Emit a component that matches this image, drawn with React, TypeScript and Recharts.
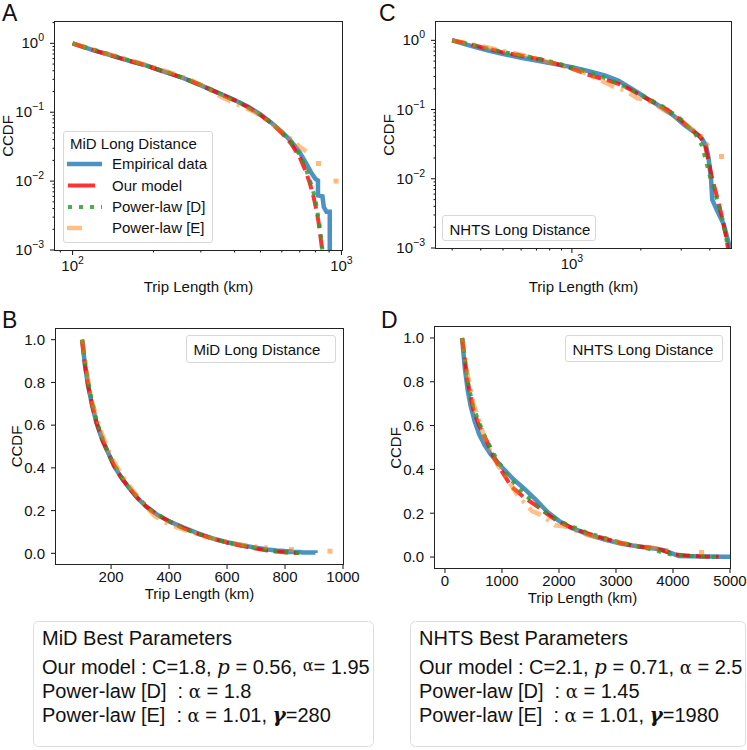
import React from 'react';
import { ComposedChart, Line, Scatter, XAxis, YAxis } from 'recharts';

const SANS = '"Liberation Sans", Arial, Helvetica, sans-serif';
const SERIF = '"DejaVu Serif", "Liberation Serif", serif';
const INK = '#111111';

// MiD long-distance trips: trip length (km) and CCDF per series
const midEmpiricalKm = [100, 110, 120, 135, 150, 170, 190, 210, 235, 260, 290, 320, 360, 400, 450, 500, 550, 600, 650, 700, 740, 770, 800, 818, 818, 850, 860, 880, 905, 905];
const midEmpiricalCcdf = [1.0, 0.88, 0.79, 0.69, 0.61, 0.53, 0.47, 0.41, 0.355, 0.31, 0.26, 0.22, 0.18, 0.15, 0.12, 0.093, 0.07, 0.052, 0.038, 0.026, 0.018, 0.0135, 0.0108, 0.0102, 0.0062, 0.006, 0.0042, 0.0036, 0.0036, 0.001];
const midModelKm = [100, 110, 120, 135, 150, 170, 190, 210, 235, 260, 290, 320, 360, 400, 450, 500, 550, 600, 650, 700, 733, 760, 787, 805, 820, 835, 848];
const midModelCcdf = [1.0, 0.88, 0.79, 0.69, 0.61, 0.53, 0.47, 0.41, 0.355, 0.31, 0.26, 0.22, 0.18, 0.15, 0.118, 0.091, 0.069, 0.05, 0.035, 0.022, 0.0145, 0.0098, 0.006, 0.004, 0.0027, 0.0016, 0.001];
const midPowerDKm = [100, 115, 130, 150, 175, 200, 230, 260, 300, 340, 380, 430, 480, 530, 580, 630, 680, 720, 745, 770, 800, 832, 850];
const midPowerDCcdf = [1.0, 0.85, 0.74, 0.62, 0.52, 0.44, 0.37, 0.31, 0.25, 0.2, 0.165, 0.13, 0.1, 0.078, 0.058, 0.042, 0.029, 0.019, 0.0135, 0.0092, 0.0055, 0.0021, 0.001];
const midPowerEKm = [100, 130, 160, 200, 240, 280, 315, 350, 385, 430, 480, 530, 580, 630, 665, 710, 740];
const midPowerECcdf = [1.0, 0.73, 0.59, 0.45, 0.36, 0.285, 0.225, 0.175, 0.145, 0.12, 0.098, 0.076, 0.058, 0.045, 0.037, 0.03, 0.027];
const midPowerETailKm = [822, 955];
const midPowerETailCcdf = [0.018, 0.01];

// NHTS long-distance trips
const nhtsEmpiricalKm = [300, 350, 400, 450, 520, 600, 700, 800, 1000, 1200, 1400, 1600, 1800, 2000, 2200, 2500, 2800, 3100, 3400, 3700, 3850, 3950, 4050, 4100, 4300, 4600, 4900, 5000];
const nhtsEmpiricalCcdf = [1.0, 0.86, 0.76, 0.69, 0.62, 0.56, 0.51, 0.47, 0.41, 0.355, 0.31, 0.26, 0.205, 0.165, 0.135, 0.105, 0.08, 0.06, 0.048, 0.038, 0.03, 0.02, 0.01, 0.005, 0.0035, 0.0022, 0.001, 0.0008];
const nhtsModelKm = [300, 350, 400, 500, 600, 733, 850, 1000, 1170, 1400, 1600, 1800, 2000, 2300, 2600, 3000, 3300, 3600, 3800, 3950, 4100, 4300, 4500, 4700, 4800];
const nhtsModelCcdf = [1.0, 0.9, 0.8, 0.67, 0.6, 0.53, 0.46, 0.39, 0.32, 0.27, 0.235, 0.195, 0.16, 0.125, 0.1, 0.07, 0.052, 0.042, 0.032, 0.018, 0.01, 0.0055, 0.003, 0.0015, 0.001];
const nhtsPowerDKm = [300, 400, 500, 700, 900, 1100, 1400, 1700, 2000, 2500, 3000, 3450, 3700, 3820, 4000, 4200, 4400, 4600, 4800];
const nhtsPowerDCcdf = [1.0, 0.8, 0.68, 0.55, 0.45, 0.37, 0.285, 0.215, 0.165, 0.11, 0.072, 0.045, 0.03, 0.02, 0.011, 0.0065, 0.004, 0.0022, 0.001];
const nhtsPowerEKm = [300, 350, 420, 500, 600, 700, 800, 900, 1000, 1120, 1250, 1400, 1530, 1700, 1930, 2100, 2300, 2500, 2800, 3100, 3400, 3650, 3800, 3950];
const nhtsPowerECcdf = [1.0, 0.9, 0.8, 0.7, 0.62, 0.54, 0.48, 0.43, 0.39, 0.345, 0.29, 0.245, 0.21, 0.19, 0.145, 0.14, 0.12, 0.1, 0.08, 0.063, 0.05, 0.042, 0.034, 0.03];
const nhtsPowerETailKm = [4500];
const nhtsPowerETailCcdf = [0.021];

const legendLabels = ['Empirical data', 'Our model', 'Power-law [D]', 'Power-law [E]'];

type Pt = { x: number; y: number };
const zip = (xs: number[], ys: number[]): Pt[] => xs.map((x, i) => ({ x, y: ys[i] }));

interface SeriesSet {
  empirical: Pt[];
  model: Pt[];
  powerD: Pt[];
  powerE: Pt[];
  tail: Pt[];
}

const mid: SeriesSet = {
  empirical: zip(midEmpiricalKm, midEmpiricalCcdf),
  model: zip(midModelKm, midModelCcdf),
  powerD: zip(midPowerDKm, midPowerDCcdf),
  powerE: zip(midPowerEKm, midPowerECcdf),
  tail: zip(midPowerETailKm, midPowerETailCcdf),
};

const nhts: SeriesSet = {
  empirical: zip(nhtsEmpiricalKm, nhtsEmpiricalCcdf),
  model: zip(nhtsModelKm, nhtsModelCcdf),
  powerD: zip(nhtsPowerDKm, nhtsPowerDCcdf),
  powerE: zip(nhtsPowerEKm, nhtsPowerECcdf),
  tail: zip(nhtsPowerETailKm, nhtsPowerETailCcdf),
};

const STYLE = {
  empirical: { stroke: '#1f77b4', strokeOpacity: 0.8, strokeWidth: 4.5 },
  model: { stroke: '#ff0000', strokeOpacity: 0.8, strokeWidth: 4, strokeDasharray: '14 6' },
  powerD: { stroke: '#2ca02c', strokeOpacity: 0.85, strokeWidth: 4, strokeDasharray: '4 7' },
  powerE: { stroke: '#ff7f0e', strokeOpacity: 0.5, strokeWidth: 4.5, strokeDasharray: '14 7 3 7' },
};

// minor + major ticks of a log axis between lo and hi
function logTicks(lo: number, hi: number): number[] {
  const out: number[] = [];
  for (let e = Math.floor(Math.log10(lo)); e <= Math.ceil(Math.log10(hi)); e++) {
    for (let m = 1; m <= 9; m++) {
      const v = parseFloat((m * Math.pow(10, e)).toPrecision(6));
      if (v >= lo && v <= hi) out.push(v);
    }
  }
  return out;
}

const isDecade = (v: number) => Math.abs(Math.log10(v) - Math.round(Math.log10(v))) < 1e-9;
const expText = (v: number) => {
  const e = Math.round(Math.log10(v));
  return e < 0 ? `\u2212${-e}` : `${e}`;
};

function XTick(props: any) {
  const { x, y, payload, log } = props;
  const v = payload.value as number;
  const major = log ? isDecade(v) : true;
  return (
    <g>
      <line x1={x} x2={x} y1={y} y2={y + (major ? 5 : 2.5)} stroke={INK} strokeWidth={1} />
      {major &&
        (log ? (
          <text x={x} y={y + 21} textAnchor="middle" fontFamily={SANS} fontSize={15} fill={INK}>
            10
            <tspan dy={-7} fontSize={10.5}>
              {expText(v)}
            </tspan>
          </text>
        ) : (
          <text x={x} y={y + 17.5} textAnchor="middle" fontFamily={SANS} fontSize={15} fill={INK}>
            {v}
          </text>
        ))}
    </g>
  );
}

function YTick(props: any) {
  const { x, y, payload, log } = props;
  const v = payload.value as number;
  const major = log ? isDecade(v) : true;
  return (
    <g>
      <line x1={x} x2={x - (major ? 5 : 2.5)} y1={y} y2={y} stroke={INK} strokeWidth={1} />
      {major &&
        (log ? (
          <text x={x - 11} y={y + 5} textAnchor="end" fontFamily={SANS} fontSize={15} fill={INK}>
            10
            <tspan dy={-7} fontSize={10.5}>
              {expText(v)}
            </tspan>
          </text>
        ) : (
          <text x={x - 11} y={y + 5.3} textAnchor="end" fontFamily={SANS} fontSize={15} fill={INK}>
            {v.toFixed(1)}
          </text>
        ))}
    </g>
  );
}

interface PanelProps {
  left: number;
  top: number;
  width: number;
  height: number;
  log: boolean;
  xDomain: [number, number];
  yDomain: [number, number];
  xTicks: number[];
  yTicks: number[];
  data: SeriesSet;
}

const PAD_L = 70;
const PAD_T = 10;
const PAD_R = 30;
const PAD_B = 60;

function Panel(p: PanelProps) {
  const scale = p.log ? 'log' : 'linear';
  return (
    <div style={{ position: 'absolute', left: p.left - PAD_L, top: p.top - PAD_T }}>
      <ComposedChart
        width={p.width + PAD_L + PAD_R}
        height={p.height + PAD_T + PAD_B}
        margin={{ top: PAD_T, right: PAD_R, bottom: 0, left: 0 }}
      >
        <XAxis
          dataKey="x"
          type="number"
          scale={scale}
          domain={p.xDomain}
          ticks={p.xTicks}
          interval={0}
          allowDataOverflow
          axisLine={false}
          tickLine={false}
          tickSize={0}
          tickMargin={0}
          height={PAD_B}
          tick={(t: any) => <XTick {...t} log={p.log} />}
        />
        <YAxis
          dataKey="y"
          type="number"
          scale={scale}
          domain={p.yDomain}
          ticks={p.yTicks}
          interval={0}
          allowDataOverflow
          axisLine={false}
          tickLine={false}
          tickSize={0}
          tickMargin={0}
          width={PAD_L}
          tick={(t: any) => <YTick {...t} log={p.log} />}
        />
        <Line data={p.data.empirical} dataKey="y" type="linear" dot={false} activeDot={false} isAnimationActive={false} {...STYLE.empirical} />
        <Line data={p.data.model} dataKey="y" type="linear" dot={false} activeDot={false} isAnimationActive={false} {...STYLE.model} />
        <Line data={p.data.powerD} dataKey="y" type="linear" dot={false} activeDot={false} isAnimationActive={false} {...STYLE.powerD} />
        <Line data={p.data.powerE} dataKey="y" type="linear" dot={false} activeDot={false} isAnimationActive={false} {...STYLE.powerE} />
        <Scatter
          data={p.data.tail}
          isAnimationActive={false}
          shape={(s: any) => (
            <rect x={s.cx - 2.5} y={s.cy - 2.5} width={5} height={5} fill="#ff7f0e" fillOpacity={0.55} />
          )}
        />
      </ComposedChart>
    </div>
  );
}

// plot rectangles of the four panels
const RECT_A = { left: 55, top: 22, width: 287, height: 228 };
const RECT_B = { left: 56, top: 329, width: 287, height: 235 };
const RECT_C = { left: 436, top: 22, width: 295, height: 226 };
const RECT_D = { left: 435, top: 327, width: 295, height: 241 };

const linearY = [0, 0.2, 0.4, 0.6, 0.8, 1.0];

function Frame({ r }: { r: { left: number; top: number; width: number; height: number } }) {
  return <rect x={r.left - 0.5} y={r.top - 0.5} width={r.width + 1} height={r.height + 1} fill="none" stroke="#222" strokeWidth={1} />;
}

function SmallLegend({ x, y, w, h, label }: { x: number; y: number; w: number; h: number; label: string }) {
  return (
    <g>
      <rect x={x} y={y} width={w} height={h} rx={2.5} fill="#fff" fillOpacity={0.8} stroke="#d8d8d8" strokeWidth={1} />
      <text x={x + 7} y={y + 19} fontFamily={SANS} fontSize={15} fill={INK}>
        {label}
      </text>
    </g>
  );
}

function ParamBox({ x, w, title, model, alphaRaised, powerD, powerE, gamma }: any) {
  const base = { fontFamily: SANS, fontSize: 20, fill: INK, style: { whiteSpace: 'pre' as const } };
  const tx = x + 9;
  return (
    <g>
      <rect x={x + 0.5} y={621.5} width={w} height={125} rx={5} fill="#fff" stroke="#dcdcdc" strokeWidth={1} />
      <text x={tx} y={645} {...base}>
        {title}
      </text>
      <text x={tx} y={674} {...base}>
        {`Our model : C=${model.c}, `}
        <tspan fontFamily={SERIF} fontStyle="italic">p</tspan>
        {` = ${model.p}, `}
        {alphaRaised ? (
          <>
            <tspan fontFamily={SERIF} fontSize={16} dy={-3}>α</tspan>
            <tspan dy={3}>{`= ${model.alpha}`}</tspan>
          </>
        ) : (
          <>
            <tspan fontFamily={SERIF} fontSize={18}>α</tspan>
            {` = ${model.alpha}`}
          </>
        )}
      </text>
      <text x={tx} y={698} {...base}>
        {'Power-law [D]  : '}
        <tspan fontFamily={SERIF} fontSize={18}>α</tspan>
        {` = ${powerD}`}
      </text>
      <text x={tx} y={722} {...base}>
        {'Power-law [E]  : '}
        <tspan fontFamily={SERIF} fontSize={18}>α</tspan>
        {` = ${powerE}, `}
        <tspan fontFamily={SERIF} fontStyle="italic" fontWeight="bold">γ</tspan>
        {`=${gamma}`}
      </text>
    </g>
  );
}

export default function App() {
  const axisLabel = { fontFamily: SANS, fontSize: 15, fill: INK };
  const letter = { fontFamily: SANS, fontSize: 23, fill: INK };
  const legendY = [169, 190.5, 212, 233];
  return (
    <div style={{ position: 'absolute', left: 0, top: 0, width: 747, height: 750, background: '#fff', overflow: 'hidden' }}>
      <Panel {...RECT_A} log xDomain={[86, 1005]} yDomain={[0.001, 2.04]} xTicks={logTicks(86, 1005)} yTicks={logTicks(0.001, 2.04)} data={mid} />
      <Panel {...RECT_C} log xDomain={[255, 4950]} yDomain={[0.001, 1.84]} xTicks={logTicks(255, 4950)} yTicks={logTicks(0.001, 1.84)} data={nhts} />
      <Panel {...RECT_B} log={false} xDomain={[10, 1000]} yDomain={[-0.05, 1.05]} xTicks={[200, 400, 600, 800, 1000]} yTicks={linearY} data={mid} />
      <Panel {...RECT_D} log={false} xDomain={[-175, 5000]} yDomain={[-0.05, 1.05]} xTicks={[0, 1000, 2000, 3000, 4000, 5000]} yTicks={linearY} data={nhts} />

      <svg width={747} height={750} style={{ position: 'absolute', left: 0, top: 0, pointerEvents: 'none' }}>
        <Frame r={RECT_A} />
        <Frame r={RECT_B} />
        <Frame r={RECT_C} />
        <Frame r={RECT_D} />

        <text x={2} y={21} {...letter}>A</text>
        <text x={2} y={328} {...letter}>B</text>
        <text x={379} y={21} {...letter}>C</text>
        <text x={381} y={328} {...letter}>D</text>

        <text x={198.5} y={292} textAnchor="middle" {...axisLabel}>Trip Length (km)</text>
        <text x={583.5} y={292} textAnchor="middle" {...axisLabel}>Trip Length (km)</text>
        <text x={199.5} y={599} textAnchor="middle" {...axisLabel}>Trip Length (km)</text>
        <text x={582.5} y={603} textAnchor="middle" {...axisLabel}>Trip Length (km)</text>

        <text transform="translate(13,136) rotate(-90)" textAnchor="middle" {...axisLabel}>CCDF</text>
        <text transform="translate(394,135) rotate(-90)" textAnchor="middle" {...axisLabel}>CCDF</text>
        <text transform="translate(22,446.5) rotate(-90)" textAnchor="middle" {...axisLabel}>CCDF</text>
        <text transform="translate(401,448) rotate(-90)" textAnchor="middle" {...axisLabel}>CCDF</text>

        {/* series legend of panel A */}
        <g>
          <rect x={63.5} y={131.5} width={149} height={111} rx={2.5} fill="#fff" fillOpacity={0.8} stroke="#d8d8d8" strokeWidth={1} />
          <text x={70} y={149} {...axisLabel}>MiD Long Distance</text>
          <line x1={67} x2={102} y1={legendY[0] - 5} y2={legendY[0] - 5} {...STYLE.empirical} />
          <line x1={68} x2={95} y1={legendY[1] - 5} y2={legendY[1] - 5} stroke="#ff0000" strokeOpacity={0.8} strokeWidth={4} />
          <line x1={68} x2={102} y1={legendY[2] - 5} y2={legendY[2] - 5} stroke="#2ca02c" strokeOpacity={0.85} strokeWidth={4} strokeDasharray="4 7" />
          <line x1={67} x2={82} y1={legendY[3] - 5} y2={legendY[3] - 5} stroke="#ff7f0e" strokeOpacity={0.5} strokeWidth={4.5} />
          {legendLabels.map((l, i) => (
            <text key={l} x={112} y={legendY[i]} {...axisLabel}>
              {l}
            </text>
          ))}
        </g>

        <SmallLegend x={442.5} y={215.5} w={153} h={25} label="NHTS Long Distance" />
        <SmallLegend x={186.5} y={335.5} w={149} h={27} label="MiD Long Distance" />
        <SmallLegend x={565.5} y={335.5} w={157} h={26} label="NHTS Long Distance" />

        <ParamBox x={33} w={340} title="MiD Best Parameters" model={{ c: '1.8', p: '0.56', alpha: '1.95' }} alphaRaised powerD="1.8" powerE="1.01" gamma="280" />
        <ParamBox x={410} w={335} title="NHTS Best Parameters" model={{ c: '2.1', p: '0.71', alpha: '2.5' }} powerD="1.45" powerE="1.01" gamma="1980" />
      </svg>
    </div>
  );
}
